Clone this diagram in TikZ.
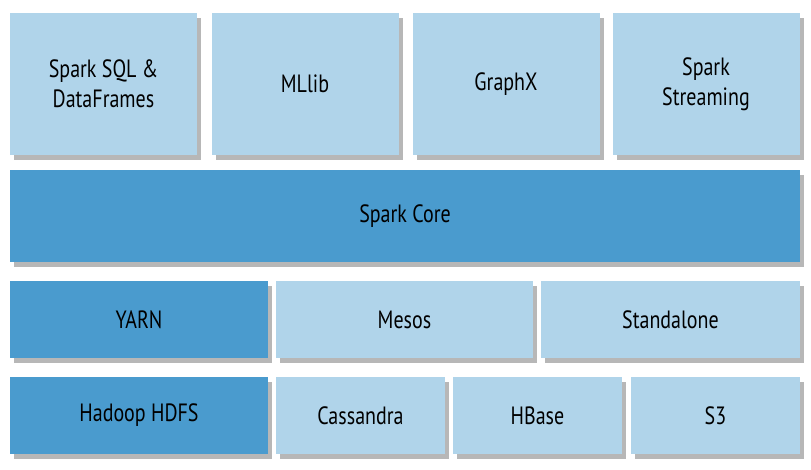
\documentclass[tikz,border=0pt]{standalone}
\usepackage{fontspec}
\setmainfont[FakeStretch=0.8]{PT Sans}
\usetikzlibrary{shadows}
\definecolor{lightblue}{HTML}{B0D4EA}
\definecolor{darkblue}{HTML}{4A9BCE}
\begin{document}
\begin{tikzpicture}[x=1pt,y=-1pt]
\tikzset{box/.style={rectangle,draw=none,fill=lightblue,align=center,inner sep=0pt,
  font=\fontsize{25}{30}\selectfont,
  drop shadow={shadow xshift=4pt,shadow yshift=-5pt,opacity=0.4,fill=black!70}},
  darkbox/.style={box,fill=darkblue},
  tallbox/.style={minimum width=187pt,minimum height=142pt},
  lowbox/.style={minimum height=77pt}}
\useasboundingbox[fill=white] (0,0) rectangle (811,469);
% libraries on top
\node[box,tallbox](sql) at (103.5,84) {Spark SQL \&\\DataFrames};
\node[box,tallbox](mllib) at (305,84) {MLlib};
\node[box,tallbox](graphx) at (506,84) {GraphX};
\node[box,tallbox](streaming) at (706,84) {Spark\\Streaming};
% core
\node[darkbox,minimum width=790pt,minimum height=92pt](core) at (405,216) {Spark Core};
% cluster managers
\node[darkbox,lowbox,minimum width=258pt](yarn) at (139,319.5) {YARN};
\node[box,lowbox,minimum width=257pt](mesos) at (404.5,319.5) {Mesos};
\node[box,lowbox,minimum width=259pt](standalone) at (670.5,319.5) {Standalone};
% storage
\node[darkbox,lowbox,minimum width=258pt](hdfs) at (139,415.5) {Hadoop HDFS};
\node[box,lowbox,minimum width=169pt](cassandra) at (360.5,415.5) {Cassandra};
\node[box,lowbox,minimum width=169pt](hbase) at (537.5,415.5) {HBase};
\node[box,lowbox,minimum width=169pt](s3) at (715.5,415.5) {S3};
\end{tikzpicture}
\end{document}
